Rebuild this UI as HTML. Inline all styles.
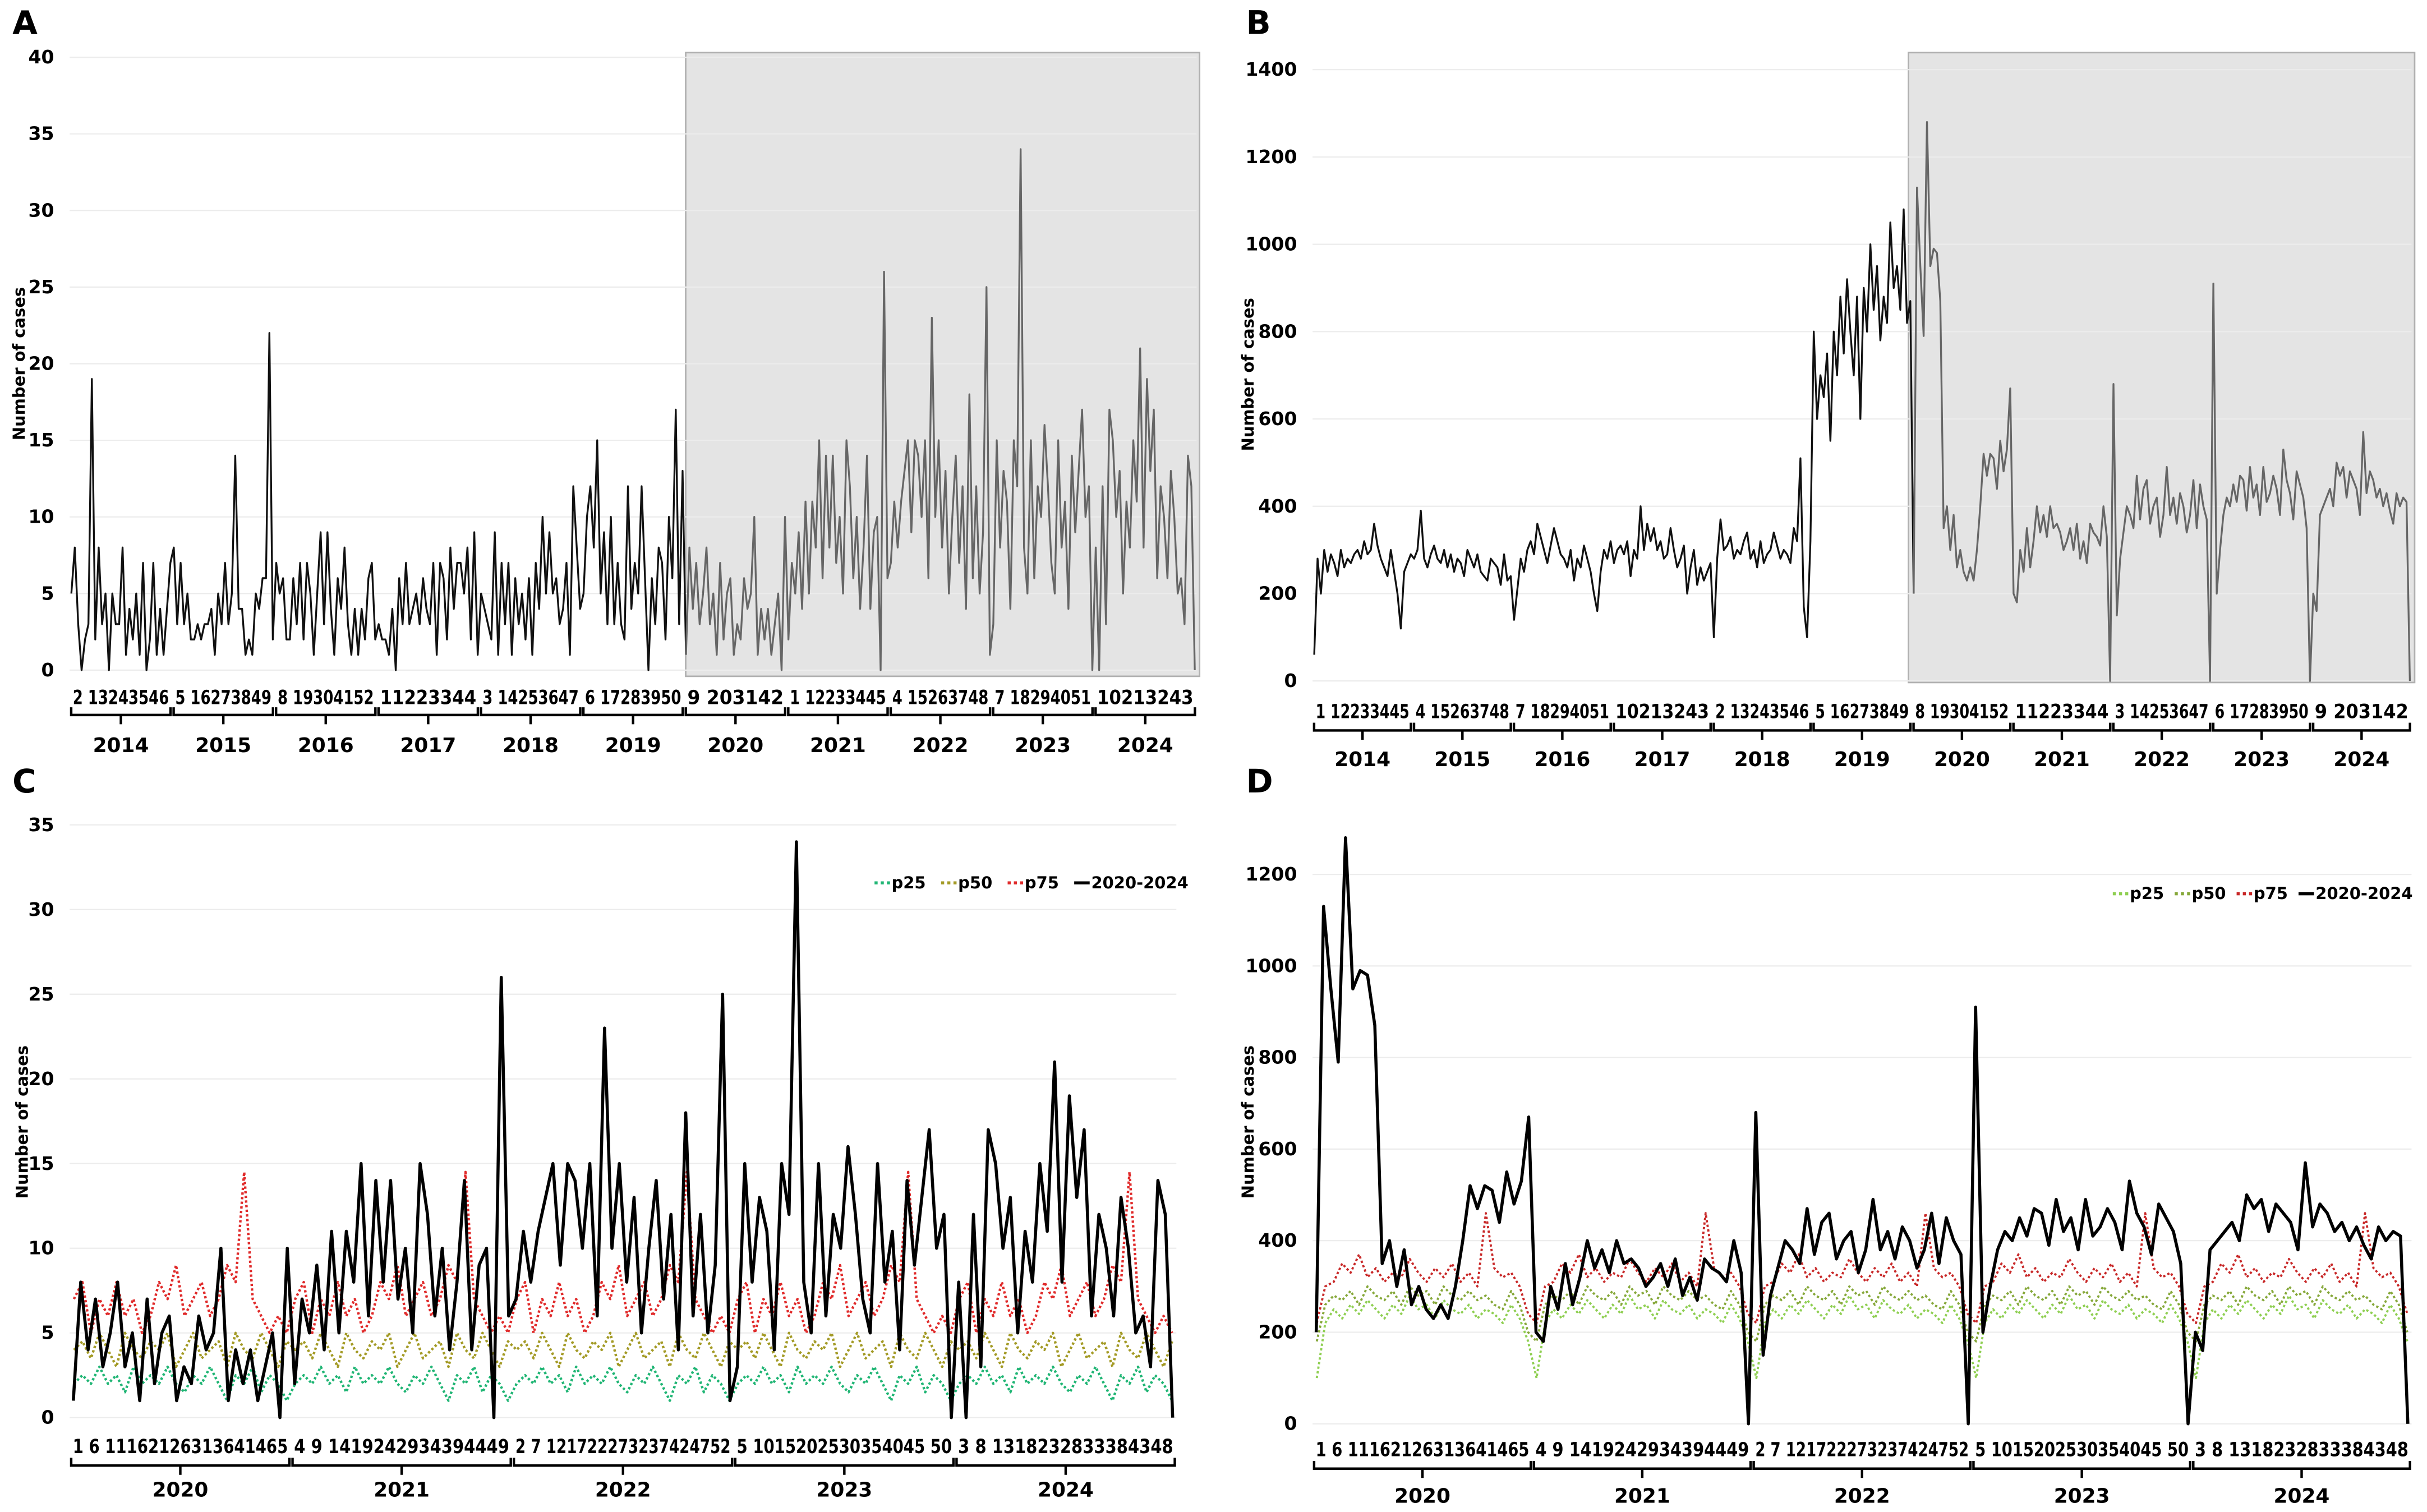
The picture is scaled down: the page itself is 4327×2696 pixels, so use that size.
<!DOCTYPE html>
<html><head><meta charset="utf-8">
<style>
html,body{margin:0;padding:0;background:#fff;}
svg{display:block;}
text{font-family:"DejaVu Sans","Liberation Sans",sans-serif;}
</style></head>
<body>
<svg id="fig" width="4327" height="2696" viewBox="0 0 1568 977" preserveAspectRatio="none" xmlns="http://www.w3.org/2000/svg"></svg>
<script>
// ---- data ----
const yearsA = [2014,2015,2016,2017,2018,2019,2020,2021,2022,2023,2024];
const yearsC = [2020,2021,2022,2023,2024];
const weekLabelsA = ["2 13243546","5 16273849","8 19304152","11223344","3 14253647","6 17283950","9 203142","1 12233445","4 15263748","7 18294051","10213243"];
const weekLabelsB = ["1 12233445","4 15263748","7 18294051","10213243","2 13243546","5 16273849","8 19304152","11223344","3 14253647","6 17283950","9 203142"];
const weekLabelsC = ["1  6 11162126313641465","4  9 1419242934394449","2  7 121722273237424752","5 1015202530354045 50","3  8 1318232833384348"];
const ticksA = [0,5,10,15,20,25,30,35,40];
const ticksB = [0,200,400,600,800,1000,1200,1400];
const ticksC = [0,5,10,15,20,25,30,35];
const ticksD = [0,200,400,600,800,1000,1200];
const casesPre2020 = [
5,8,3,0,2,3,19,2,8,3,5,0,5,3,3,8,1,4,2,5,1,7,0,2,7,1,4,1,4,7,
8,3,7,3,5,2,2,3,2,3,3,4,1,5,3,7,3,5,14,4,4,1,2,1,5,4,6,6,22,2,
7,5,6,2,2,6,3,7,2,7,5,1,5,9,3,9,4,1,6,4,8,3,1,4,1,4,2,6,7,2,
3,2,2,1,4,0,6,3,7,3,4,5,3,6,4,3,7,1,7,6,2,8,4,7,7,5,8,2,9,1,
5,4,3,2,9,1,7,3,7,1,6,3,5,2,6,1,7,4,10,5,9,5,6,3,4,7,1,12,8,4,
5,10,12,8,15,5,9,3,10,3,7,3,2,12,4,7,5,12,6,0,6,3,8,7,2,10,6,17,3,13];
const cases2020on = [
1,8,4,7,3,5,8,3,5,1,7,2,5,6,1,3,2,6,4,5,10,1,4,2,4,1,3,5,0,10,
2,7,5,9,4,11,5,11,8,15,6,14,8,14,7,10,5,15,12,6,10,4,8,14,4,9,10,0,26,6,
7,11,8,11,13,15,9,15,14,10,15,6,23,10,15,8,13,5,10,14,7,12,4,18,6,12,5,9,25,1,
3,15,8,13,11,4,15,12,34,8,5,15,6,12,10,16,12,7,5,15,8,11,4,14,9,13,17,10,12,0,
8,0,12,3,17,15,10,13,5,11,8,15,11,21,8,19,13,17,6,12,10,6,13,10,5,6,3,14,12,0];
const hospPre2020 = [
60,280,200,300,250,290,270,240,300,260,280,270,290,300,280,320,290,300,360,310,280,260,240,300,250,200,120,250,270,290,
280,300,390,280,260,290,310,280,270,300,260,290,250,280,270,240,300,280,260,290,250,240,230,280,270,260,220,290,230,240,
140,210,280,250,300,320,290,360,330,300,270,310,350,320,290,280,260,300,230,280,260,310,280,250,200,160,250,300,280,320,
270,300,310,290,320,240,300,280,400,300,360,320,350,300,320,280,290,350,300,260,280,310,200,260,300,220,260,230,250,270,
100,280,370,300,310,330,280,300,290,320,340,280,300,260,320,270,290,300,340,310,280,300,290,270,350,320,510,170,100,320,
800,600,700,650,750,550,800,700,880,750,920,800,700,880,600,900,800,1000,850,950,780,880,820,1050,900,950,850,1080,820,870];
const hosp2020on = [
200,1130,950,790,1280,950,990,980,870,350,400,300,380,260,300,250,230,260,230,300,400,520,470,520,510,440,550,480,530,670,
200,180,300,250,350,260,320,400,340,380,330,400,350,360,340,300,320,350,300,360,280,320,270,360,340,330,310,400,330,0,
680,150,280,340,400,380,350,470,370,440,460,360,400,420,330,380,490,380,420,360,430,400,340,380,460,350,450,400,370,0,
910,200,300,380,420,400,450,410,470,460,390,490,420,450,380,490,410,430,470,440,380,530,460,430,370,480,450,420,350,0,
200,160,380,400,420,440,400,500,470,490,420,480,460,440,380,570,430,480,460,420,440,400,430,390,360,430,400,420,410,0];
const p25C = [2,2.5,2,3,2,2.5,1.5,3,2,2.5,2,3,2,1.5,2.5,2,3,2,1,2.5,2,3,1.5,2.5,2,1];
const p50C = [4,4.5,3.5,5,4,3,5,4,3.5,4.5,4,5,3,4,5,3.5,4,4.5,3,5,4,3.5,5,4,3,4.5];
const p75C = [7,8,5,7,6,8,6,7,5,6,8,7,9,6,7,8,6,7,9,8,14.5,7,6,5,6,5];
const p25D = [100,220,250,230,260,240,270,250,230,260,240,280,250,260,230,270,250,240,260,230,250,240,220,260,230,180];
const p50D = [180,260,280,270,290,260,300,280,270,290,260,300,280,290,260,300,280,270,290,270,280,260,250,290,260,200];
const p75D = [220,300,310,350,330,370,320,340,310,330,320,360,330,310,340,320,350,310,330,300,460,340,320,330,300,240];

// ---- drawing ----
const NS="http://www.w3.org/2000/svg";
const svg=document.getElementById('fig');
function mk(tag,attrs,parent,txt){const e=document.createElementNS(NS,tag);for(const k in attrs)e.setAttribute(k,attrs[k]);if(txt!==undefined)e.textContent=txt;(parent||svg).appendChild(e);return e;}

function panel(cfg){
  const g=mk('g',{});
  
  
  const L=mk('text',{x:cfg.letter[0],y:cfg.letter[1],'font-size':21,'font-weight':'bold'},g,cfg.letterText);
  
  
  const ys=v=>cfg.y0-(v/cfg.max)*(cfg.y0-cfg.yTop);
  if(cfg.gray){
    const r=mk('rect',{x:cfg.gray[0],y:cfg.gray[1],width:cfg.gray[2]-cfg.gray[0],height:cfg.gray[3]-cfg.gray[1],fill:'#e4e4e4',stroke:'#b0b0b0','stroke-width':1},g);
    
    
  }
  cfg.ticks.forEach(t=>{
    const gl=mk('line',{x1:cfg.x0,x2:cfg.x1,y1:ys(t),y2:ys(t),stroke:'#ececec','stroke-width':0.8},g);
    
    
    const tl=mk('text',{x:cfg.x0-10,y:ys(t)+4,'font-size':12,'font-weight':'bold','text-anchor':'end'},g,String(t));
    
    
  });
  const yt=mk('text',{transform:`translate(${cfg.ytitle[0]},${cfg.ytitle[1]}) rotate(-90)`,'font-size':10.5,'font-weight':'600','text-anchor':'middle'},g,'Number of cases');
  
  
  const ny=cfg.years.length, w=(cfg.x1-cfg.x0)/ny;
  cfg.years.forEach((yr,i)=>{
    const a=cfg.x0+i*w+1, b=cfg.x0+(i+1)*w-1, m=(a+b)/2;
    const wl=mk('text',{x:a+1,y:cfg.wy,'font-size':12.5,'font-weight':'bold',textLength:w-4,lengthAdjust:'spacingAndGlyphs'},g,cfg.weeks[i]);
    
    
    const br=mk('path',{d:`M${a},${cfg.by-5}L${a},${cfg.by}L${b},${cfg.by}L${b},${cfg.by-5}M${m},${cfg.by}L${m},${cfg.by+6}`,fill:'none',stroke:'#000','stroke-width':1.6},g);
    
    
    const yl=mk('text',{x:m,y:cfg.yy,'font-size':13,'font-weight':'bold','text-anchor':'middle'},g,String(yr));
    
    
  });
  const xs=(i,n)=>cfg.x0+(i+0.5)*(cfg.x1-cfg.x0)/n;
  (cfg.series||[]).forEach(s=>{
    const n=s.total;
    const pts=s.data.map((v,i)=>`${xs(i+s.offset,n).toFixed(2)},${ys(v).toFixed(2)}`).join(' ');
    const pl=mk('polyline',{points:pts,fill:'none',stroke:s.color,'stroke-width':s.width,'stroke-dasharray':s.dash||'none','stroke-linejoin':'round'},g);
    
    
  });
  if(cfg.legend){
    let lx=cfg.legend[0];const ly=cfg.legend[1];
    cfg.legendItems.forEach(it=>{
      const le=mk('g',{},g);
      
      
      mk('line',{x1:lx,x2:lx+10,y1:ly-3.5,y2:ly-3.5,stroke:it.color,'stroke-width':2,'stroke-dasharray':it.dash||'none'},le);
      mk('text',{x:lx+11,y:ly,'font-size':10.5,'font-weight':'bold'},le,it.label);
      lx+=it.w;
    });
  }
}
function repeatYears(arr,n){let o=[];for(let i=0;i<n;i++)o=o.concat(arr);return o;}

const nA=casesPre2020.length+cases2020on.length;
panel({name:'panel-a',letterText:'A',letter:[8,22],x0:45,x1:773,yTop:37,y0:433,max:40,ticks:ticksA,ytitle:[16,235],
  gray:[443,34,775,437],years:yearsA,weeks:weekLabelsA,wy:455,by:462,yy:486,
  series:[{name:'cases-2014-2019-line',data:casesPre2020.concat([cases2020on[0]]),offset:0,total:nA,color:'#111',width:1.2},
          {name:'cases-2020-2024-line',data:cases2020on,offset:casesPre2020.length,total:nA,color:'#666',width:1.2}]});
const nB=hospPre2020.length+hosp2020on.length;
panel({name:'panel-b',letterText:'B',letter:[805,22],x0:848,x1:1558,yTop:45,y0:440,max:1400,ticks:ticksB,ytitle:[810,242],
  gray:[1233,34,1560,441],years:yearsA,weeks:weekLabelsB,wy:464,by:472,yy:495,
  series:[{name:'hosp-2014-2019-line',data:hospPre2020.concat([hosp2020on[0]]),offset:0,total:nB,color:'#111',width:1.2},
          {name:'hosp-2020-2024-line',data:hosp2020on,offset:hospPre2020.length,total:nB,color:'#666',width:1.2}]});
const nC=cases2020on.length, nP=p25C.length*5;
panel({name:'panel-c',letterText:'C',letter:[8,512],x0:45,x1:760,yTop:533,y0:916,max:35,ticks:ticksC,ytitle:[18,725],
  years:yearsC,weeks:weekLabelsC,wy:939,by:947,yy:967,
  series:[{name:'p25-line',data:repeatYears(p25C,5),offset:0,total:nP,color:'#1fb574',width:1.6,dash:'1.5,1.5'},
          {name:'p50-line',data:repeatYears(p50C,5),offset:0,total:nP,color:'#a39a25',width:1.6,dash:'1.5,1.5'},
          {name:'p75-line',data:repeatYears(p75C,5),offset:0,total:nP,color:'#e02a2a',width:1.6,dash:'1.5,1.5'},
          {name:'cases-2020-2024-line',data:cases2020on,offset:0,total:nC,color:'#000',width:2}],
  legend:[565,574],legendItems:[{label:'p25',color:'#1fb574',dash:'2,2',w:43},{label:'p50',color:'#a39a25',dash:'2,2',w:43},{label:'p75',color:'#e02a2a',dash:'2,2',w:43},{label:'2020-2024',color:'#000',w:70}]});
const nD=hosp2020on.length, nPD=p25D.length*5;
panel({name:'panel-d',letterText:'D',letter:[805,512],x0:848,x1:1558,yTop:565,y0:920,max:1200,ticks:ticksD,ytitle:[810,725],
  years:yearsC,weeks:weekLabelsC,wy:941,by:949,yy:971,
  series:[{name:'p25-line',data:repeatYears(p25D,5),offset:0,total:nPD,color:'#8fcf52',width:1.4,dash:'1.5,1.5'},
          {name:'p50-line',data:repeatYears(p50D,5),offset:0,total:nPD,color:'#86a83a',width:1.4,dash:'1.5,1.5'},
          {name:'p75-line',data:repeatYears(p75D,5),offset:0,total:nPD,color:'#c82828',width:1.4,dash:'1.5,1.5'},
          {name:'hosp-2020-2024-line',data:hosp2020on,offset:0,total:nD,color:'#000',width:2}],
  legend:[1365,581],legendItems:[{label:'p25',color:'#8fcf52',dash:'2,2',w:40},{label:'p50',color:'#86a83a',dash:'2,2',w:40},{label:'p75',color:'#c82828',dash:'2,2',w:40},{label:'2020-2024',color:'#000',w:70}]});
</script>
</body></html>
